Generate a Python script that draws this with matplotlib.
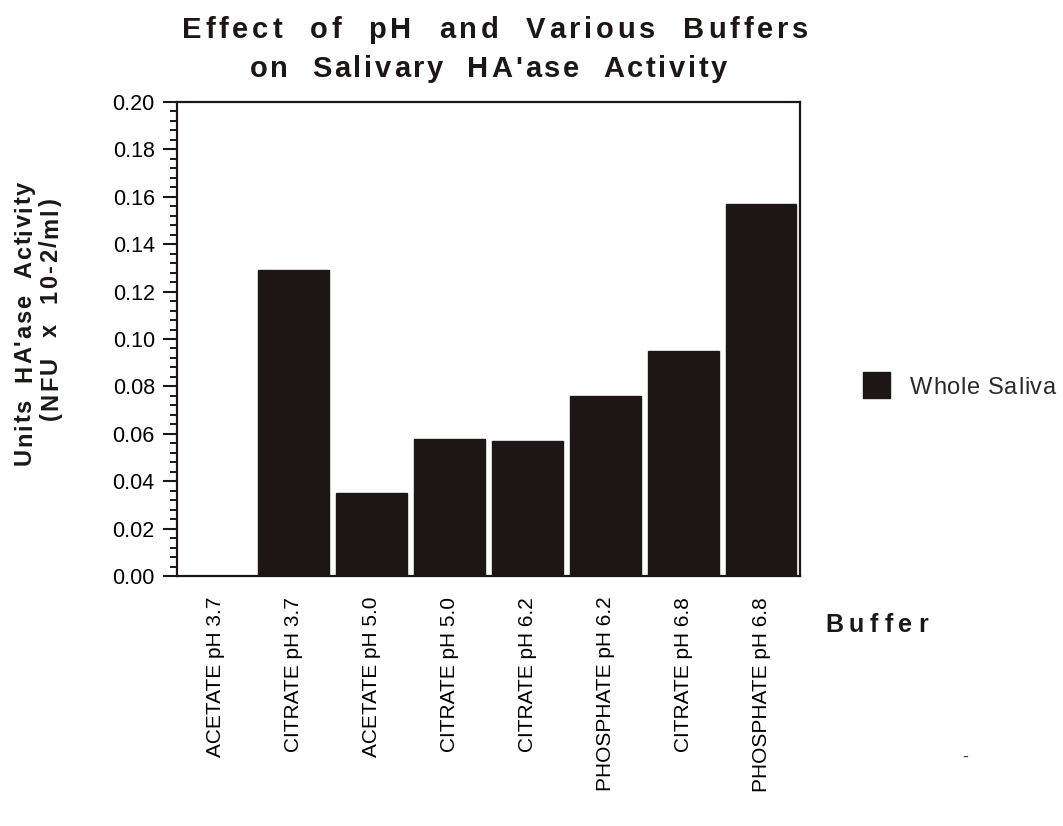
import numpy as np
import matplotlib; matplotlib.use("Agg")
import matplotlib.pyplot as plt
from matplotlib.ticker import MultipleLocator
from matplotlib.patches import Rectangle
from matplotlib.transforms import IdentityTransform

buffers = ["ACETATE pH 3.7", "CITRATE pH 3.7", "ACETATE pH 5.0", "CITRATE pH 5.0",
           "CITRATE pH 6.2", "PHOSPHATE pH 6.2", "CITRATE pH 6.8", "PHOSPHATE pH 6.8"]
whole_saliva = [0.0, 0.129, 0.035, 0.058, 0.057, 0.076, 0.095, 0.157]

INK = "#1c1616"
W, H = 1063, 826
plt.rcParams.update({"font.family": ["Liberation Sans", "DejaVu Sans"], "text.color": INK})

fig = plt.figure(figsize=(W / 100, H / 100), dpi=100)
ax = fig.add_axes([177 / W, 1 - 576 / H, 623 / W, 474 / H])
x = np.arange(len(buffers))
ax.bar(x, whole_saliva, width=0.91, color=INK, edgecolor=INK)
ax.set_xlim(-0.5, len(buffers) - 0.5)
ax.set_ylim(0, 0.20)
ax.yaxis.set_major_locator(MultipleLocator(0.02))
ax.yaxis.set_minor_locator(MultipleLocator(0.004))
ax.set_yticklabels([f"{v:.2f}" for v in ax.get_yticks()])
ax.tick_params(axis="y", which="major", length=10, width=1.5, labelsize=15.5, pad=6,
               color=INK)
ax.tick_params(axis="y", which="minor", length=5, width=1.4, color=INK)
ax.set_xticks(x)
ax.set_xticklabels(buffers, rotation=90, fontsize=15)
ax.tick_params(axis="x", length=0, pad=15)
for s in ax.spines.values():
    s.set_linewidth(1.6)
    s.set_color(INK)

# letter-spaced text, fitted between two pixel positions (the scan is wide-spaced)
rend = fig.canvas.get_renderer()
def spaced(s, p0, p1, base, size, weight="normal", vertical=False, color=INK):
    def wid(t):
        tt = fig.text(0, 0, t, fontsize=size, fontweight=weight)
        w = tt.get_window_extent(rend).width
        tt.remove()
        return w
    w0 = wid("xx")
    ws = [wid("x" + c + "x") - w0 for c in s]
    gap = ((p1 - p0) - sum(ws)) / (len(s) - 1)
    pos = p0
    for c, cw in zip(s, ws):
        if vertical:
            fig.text(base, pos, c, transform=IdentityTransform(), rotation=90,
                     rotation_mode="anchor", ha="left", va="baseline",
                     fontsize=size, fontweight=weight, color=color)
        else:
            fig.text(pos, base, c, transform=IdentityTransform(), ha="left",
                     va="baseline", fontsize=size, fontweight=weight, color=color)
        pos += cw + gap

# title
spaced("Effect  of  pH  and  Various  Buffers", 182, 808, H - 38, 21, "bold")
spaced("on  Salivary  HA'ase  Activity", 250, 727, H - 77, 21, "bold")
# y axis title (two lines)
spaced("Units  HA'ase  Activity", H - 465, H - 182, 31, 17, "bold", vertical=True)
spaced("(NFU  x  10-2/ml)", H - 420, H - 198, 57, 17, "bold", vertical=True)
# x axis title
spaced("Buffer", 825, 928, H - 632, 18, "bold")

# legend
fig.patches.append(Rectangle((863 / W, 1 - 398 / H), 27 / W, 26 / H,
                             transform=fig.transFigure, facecolor=INK, edgecolor=INK))
spaced("Whole Saliva", 910, 1056, H - 394, 17, color="#2a2a2a")
fig.text(965 / W, 1 - 757 / H, "-", ha="center", va="center", fontsize=13, color="#444444")

fig.savefig("out.png", dpi=100)
